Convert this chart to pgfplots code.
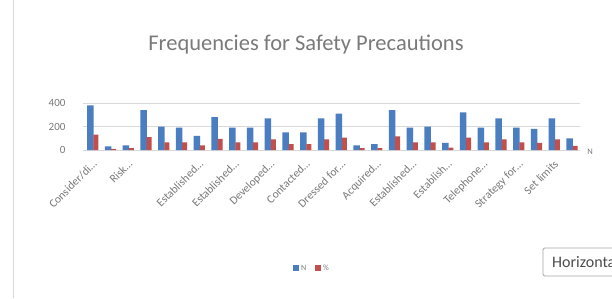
\documentclass[border=0pt]{standalone}
\usepackage{pgfplots}
\pgfplotsset{compat=1.18}
\usepackage{fontspec}
\setmainfont{Carlito}
\definecolor{exblue}{HTML}{4A7EC0}
\definecolor{exred}{HTML}{C0504D}
\definecolor{txtgray}{HTML}{7A7A7A}
\definecolor{gridgray}{HTML}{D9D9D9}
\begin{document}
\begin{tikzpicture}
\useasboundingbox (0pt,0pt) rectangle (612pt,298pt);
\fill[white] (0pt,0pt) rectangle (612pt,298pt);
\draw[gridgray,line width=1pt] (13pt,0pt) -- (13pt,298pt);
\node[txtgray,font=\fontsize{22.5}{26}\selectfont] at (306pt,253pt) {Frequencies for Safety Precautions};
\begin{axis}[
  at={(83pt,148pt)}, anchor=south west,
  scale only axis, width=497pt, height=47pt,
  ymin=0, ymax=400,
  xmin=-0.5, xmax=27.5,
  ytick={0,200,400},
  ymajorgrids, grid style={gridgray},
  axis line style={draw=none},
  ybar, bar width=6.5pt,
  xtick={0,2,4,6,8,10,12,14,16,18,20,22,24,26},
  xticklabels={{Consider/di\ldots},{Risk\ldots},{},{Established\ldots},{Established\ldots},{Developed\ldots},{Contacted\ldots},{Dressed for\ldots},{Acquired\ldots},{Established\ldots},{Establish\ldots},{Telephone\ldots},{Strategy for\ldots},{Set limits}},
  x tick label style={rotate=45,anchor=north east,font=\fontsize{11.5}{13}\selectfont,text=txtgray},
  y tick label style={font=\fontsize{11}{13}\selectfont,text=txtgray,xshift=-14pt},
  /pgf/number format/assume math mode=true,
  tick style={draw=none},
  clip=false,
]
\addplot[draw=none, fill=exblue, bar shift=-1.5pt] coordinates {
(0,380) (1,30) (2,40) (3,340) (4,200) (5,190) (6,120) (7,280) (8,190) (9,190)
(10,270) (11,150) (12,150) (13,270) (14,310) (15,40) (16,50) (17,340) (18,190) (19,200)
(20,60) (21,320) (22,190) (23,270) (24,190) (25,180) (26,270) (27,100)};
\addplot[draw=none, fill=exred, bar shift=4pt, bar width=5pt] coordinates {
(0,130) (1,10) (2,15) (3,110) (4,65) (5,65) (6,40) (7,95) (8,65) (9,65)
(10,90) (11,50) (12,50) (13,90) (14,105) (15,15) (16,15) (17,115) (18,65) (19,65)
(20,20) (21,105) (22,65) (23,90) (24,65) (25,60) (26,90) (27,35)};
\end{axis}
\node[txtgray,font=\fontsize{8.5}{10}\selectfont] at (590pt,146pt) {N};
% legend
\fill[exblue] (293pt,27pt) rectangle (299pt,33pt);
\node[txtgray,anchor=west,font=\fontsize{8}{9}\selectfont,inner sep=1pt] at (300pt,30pt) {N};
\fill[exred] (315pt,27pt) rectangle (321pt,33pt);
\node[txtgray,anchor=west,font=\fontsize{8}{9}\selectfont,inner sep=1pt] at (322pt,30pt) {\%};
% tooltip
\draw[gray!70,fill=white,line width=0.8pt,rounded corners=1.5pt] (543pt,22pt) rectangle (625pt,50pt);
\node[black!70,anchor=west,font=\fontsize{16}{18}\selectfont,inner sep=0pt] at (552pt,36pt) {Horizontal};
\end{tikzpicture}
\end{document}
